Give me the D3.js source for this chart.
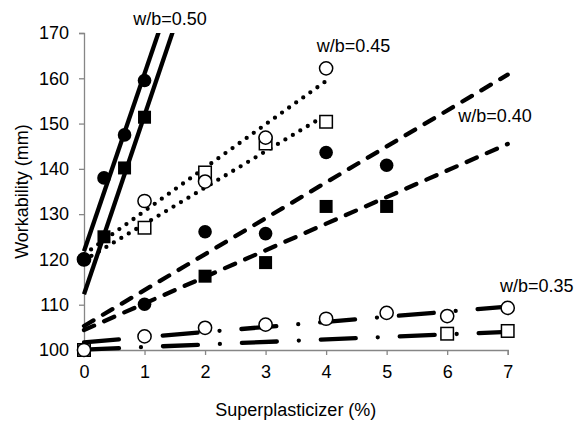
<!DOCTYPE html>
<html>
<head>
<meta charset="utf-8">
<script src="https://cdn.jsdelivr.net/npm/d3@7/dist/d3.min.js"></script>
<style>
  html, body { margin: 0; padding: 0; background: #fff; }
  svg text { font-family: "Liberation Sans", Arial, sans-serif; fill: #000; }
</style>
</head>
<body>
<svg id="chart" width="579" height="429"></svg>
<script>
// ---- data ----
const xTicks = [0, 1, 2, 3, 4, 5, 6, 7];
const yTicks = [100, 110, 120, 130, 140, 150, 160, 170];
const xTitle = "Superplasticizer (%)";
const yTitle = "Workability (mm)";

// w/b = 0.50 (solid)
const wb050CircleX = [0, 0.33, 0.67, 1];
const wb050CircleY = [120, 138, 147.5, 159.5];
const wb050SquareX = [0.33, 0.67, 1];
const wb050SquareY = [125, 140.2, 151.4];
const wb050CircleTrend = [[0, 121.8], [1.3, 172.8]];
const wb050SquareTrend = [[0, 112.3], [1.5, 171.6]];

// w/b = 0.45 (dotted)
const wb045CircleX = [0, 1, 2, 3, 4];
const wb045CircleY = [120, 132.9, 137.2, 146.9, 162.2];
const wb045SquareX = [1, 2, 3, 4];
const wb045SquareY = [127, 139.2, 145.6, 150.4];
const wb045CircleTrend = [[0, 121.1], [4, 159.4]];
const wb045SquareTrend = [[0, 119.8], [4, 151.9]];

// w/b = 0.40 (dashed)
const wb040CircleX = [1, 2, 3, 4, 5];
const wb040CircleY = [110.1, 126.1, 125.7, 143.6, 140.8];
const wb040SquareX = [2, 3, 4, 5];
const wb040SquareY = [116.3, 119.3, 131.7, 131.7];
const wb040CircleTrend = [[0, 105.3], [7, 160.8]];
const wb040SquareTrend = [[0, 104.4], [7, 145.5]];

// w/b = 0.35 (long dash - dot)
const wb035CircleX = [0, 1, 2, 3, 4, 5, 6, 7];
const wb035CircleY = [100, 103, 104.9, 105.6, 106.9, 108.2, 107.5, 109.3];
const wb035SquareX = [0, 6, 7];
const wb035SquareY = [100, 103.6, 104.2];
const wb035CircleTrend = [[0, 101.7], [7, 109.6]];
const wb035SquareTrend = [[0, 100.1], [7, 104.0]];

const labels = ["w/b=0.50", "w/b=0.45", "w/b=0.40", "w/b=0.35"];
const labelX = [0.815, 3.844, 6.184, 6.873];
const labelY = [171.76, 165.86, 150.4, 112.87];

// ---- drawing ----
const svg = d3.select("#chart");
const x = d3.scaleLinear().domain([0, 7]).range([84, 507.7]);
const y = d3.scaleLinear().domain([100, 170]).range([350, 33]);
const axisColor = "#868686";
const fs = "18px";

svg.append("defs").append("clipPath").attr("id", "plotClip")
  .append("rect").attr("x", x(0) - 10).attr("y", y(170))
  .attr("width", x(7) - x(0) + 20).attr("height", y(100) - y(170) + 10);

// axes
const xAxis = svg.append("g").attr("transform", `translate(0,${y(100)})`)
  .call(d3.axisBottom(x).tickValues(xTicks).tickSize(5).tickPadding(10).tickFormat(d3.format("d")));
const yAxis = svg.append("g").attr("transform", `translate(${x(0)},0)`)
  .call(d3.axisLeft(y).tickValues(yTicks).tickSize(5).tickPadding(10).tickFormat(d3.format("d")));
[xAxis, yAxis].forEach(g => {
  g.selectAll("path.domain").attr("stroke", axisColor).attr("stroke-width", 1.3);
  g.selectAll(".tick line").attr("stroke", axisColor).attr("stroke-width", 1.3);
  g.selectAll(".tick text").style("font-size", fs).attr("fill", "#000");
});

svg.append("text").attr("x", (x(0) + x(7)) / 2).attr("y", 416)
  .attr("text-anchor", "middle").style("font-size", fs).text(xTitle);
svg.append("text").attr("transform", `translate(28,${(y(100) + y(170)) / 2}) rotate(-90)`)
  .attr("text-anchor", "middle").style("font-size", fs).text(yTitle);

// trend lines
const line = d3.line().x(d => x(d[0])).y(d => y(d[1]));
const lines = svg.append("g").attr("clip-path", "url(#plotClip)");
function trend(pts, dash) {
  lines.append("path").attr("d", line(pts)).attr("fill", "none")
    .attr("stroke", "#000").attr("stroke-width", 4.3)
    .attr("stroke-linecap", dash ? "round" : "butt")
    .attr("stroke-dasharray", dash || null);
}
trend(wb035CircleTrend, "35,22,0,22");
trend(wb035SquareTrend, "35,22,0,22");
trend(wb040CircleTrend, "11,11");
trend(wb040SquareTrend, "11,11");
trend(wb045CircleTrend, "0,8.7");
trend(wb045SquareTrend, "0,8.7");
trend(wb050CircleTrend, null);
trend(wb050SquareTrend, null);

// markers
const marks = svg.append("g");
function circles(xs, ys, filled) {
  marks.selectAll(null).data(xs.map((v, i) => [v, ys[i]])).enter().append("circle")
    .attr("cx", d => x(d[0])).attr("cy", d => y(d[1]))
    .attr("r", filled ? 6.8 : 6.6)
    .attr("fill", filled ? "#000" : "#fff")
    .attr("stroke", "#000").attr("stroke-width", filled ? 0 : 1.5);
}
function squares(xs, ys, filled) {
  const s = filled ? 13 : 12.5;
  marks.selectAll(null).data(xs.map((v, i) => [v, ys[i]])).enter().append("rect")
    .attr("x", d => x(d[0]) - s / 2).attr("y", d => y(d[1]) - s / 2)
    .attr("width", s).attr("height", s)
    .attr("fill", filled ? "#000" : "#fff")
    .attr("stroke", "#000").attr("stroke-width", filled ? 0 : 1.5);
}
squares(wb035SquareX, wb035SquareY, false);
circles(wb035CircleX, wb035CircleY, false);
squares(wb045SquareX, wb045SquareY, false);
circles(wb045CircleX, wb045CircleY, false);
squares(wb040SquareX, wb040SquareY, true);
circles(wb040CircleX, wb040CircleY, true);
squares(wb050SquareX, wb050SquareY, true);
circles(wb050CircleX, wb050CircleY, true);

// series labels
labels.forEach((t, i) => {
  svg.append("text").attr("x", x(labelX[i])).attr("y", y(labelY[i]))
    .style("font-size", fs).text(t);
});
</script>
</body>
</html>
